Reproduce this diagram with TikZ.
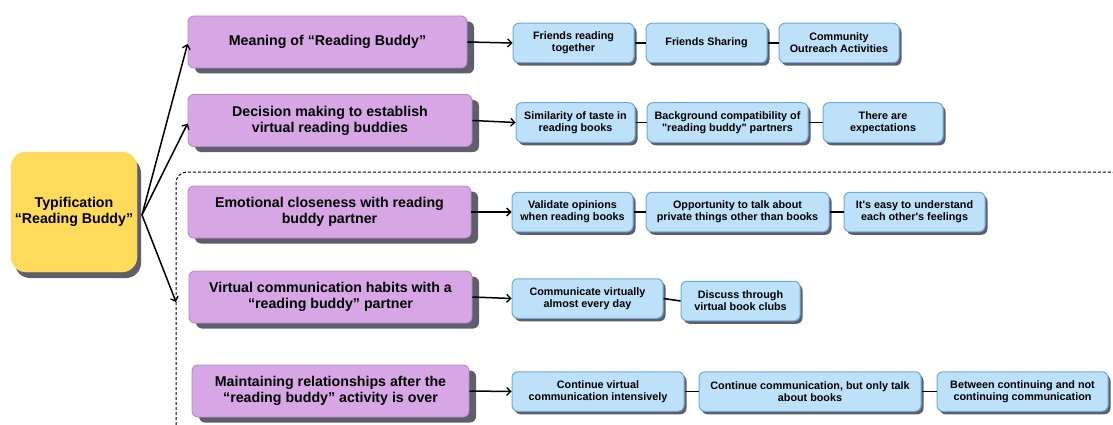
\documentclass[tikz,border=0pt]{standalone}
\usepackage{fontspec}
\setmainfont{Liberation Sans}
\usetikzlibrary{arrows.meta,shadows}

\definecolor{topicfill}{HTML}{D6A7E4}
\definecolor{topicdraw}{HTML}{B888CC}
\definecolor{itemfill}{HTML}{BDE1F9}
\definecolor{itemdraw}{HTML}{6FAAD8}
\definecolor{rootfill}{HTML}{FFDB5C}
\definecolor{shadowc}{HTML}{5F5E6B}

\tikzset{
  rootbox/.style={draw=rootfill, fill=rootfill, rounded corners=15pt,
    minimum width=126pt, minimum height=120pt, inner sep=0pt, align=center,
    font=\bfseries\fontsize{14.2}{16}\selectfont,
    general shadow={fill=shadowc, shadow xshift=4pt, shadow yshift=-6pt}},
  topicbox/.style={draw=topicdraw, line width=0.9pt, fill=topicfill, rounded corners=6pt,
    minimum height=52pt, inner sep=0pt, align=center,
    font=\bfseries\fontsize{14.2}{16}\selectfont,
    general shadow={fill=shadowc, shadow xshift=7pt, shadow yshift=-5.5pt}},
  itembox/.style={draw=itemdraw, line width=1pt, fill=itemfill, rounded corners=6pt,
    minimum height=39.5pt, inner sep=0pt, align=center,
    font=\bfseries\fontsize{10.8}{12.2}\selectfont,
    general shadow={fill=shadowc, shadow xshift=2.5pt, shadow yshift=-3pt}},
  fanarrow/.style={line width=1.5pt, -{Straight Barb[length=4pt,width=8pt,line width=1.3pt]}},
  link/.style={line width=1.6pt},
}

\begin{document}
\begin{tikzpicture}[x=1pt,y=-1pt]
\useasboundingbox (0,0) rectangle (1113,425);

% dashed frame around the last three topics
\begin{scope}
  \clip (0,0) rectangle (1113,425);
  \draw[line width=1pt, dash pattern=on 3pt off 2pt, rounded corners=11pt]
    (176,450) -- (176,172) -- (1122,172) -- (1122,450);
\end{scope}

% root
\node[rootbox] (root) at (74,212) {Typification\\“Reading Buddy”};

% topics
\node[topicbox, minimum width=279pt] (t1) at (327.5,42) {Meaning of “Reading Buddy”};
\node[topicbox, minimum width=284pt] (t2) at (330,120.5) {Decision making to establish\\virtual reading buddies};
\node[topicbox, minimum width=283pt] (t3) at (329.5,212) {Emotional closeness with reading\\buddy partner};
\node[topicbox, minimum width=283pt] (t4) at (330.5,297) {Virtual communication habits with a\\“reading buddy” partner};
\node[topicbox, minimum width=277pt] (t5) at (330.5,391) {Maintaining relationships after the\\“reading buddy” activity is over};

% row 1
\node[itembox, minimum width=121pt] (a1) at (573.5,43) {Friends reading\\together};
\node[itembox, minimum width=121pt] (a2) at (706.5,43) {Friends Sharing};
\node[itembox, minimum width=120pt] (a3) at (839,43) {Community\\Outreach Activities};

% row 2
\node[itembox, minimum width=119pt] (b1) at (575.5,122.5) {Similarity of taste in\\reading books};
\node[itembox, minimum width=161pt] (b2) at (727.5,122.5) {Background compatibility of\\\textquotedbl reading buddy\textquotedbl{} partners};
\node[itembox, minimum width=120pt] (b3) at (883,122.5) {There are\\expectations};

% row 3
\node[itembox, minimum width=121pt] (c1) at (572.5,212) {Validate opinions\\when reading books};
\node[itembox, minimum width=183pt] (c2) at (737.5,212) {Opportunity to talk about\\private things other than books};
\node[itembox, minimum width=141pt] (c3) at (914.5,212) {It\textquotesingle s easy to understand\\each other\textquotesingle s feelings};

% row 4
\node[itembox, minimum width=151pt] (d1) at (587.5,298.5) {Communicate virtually\\almost every day};
\node[itembox, minimum width=119pt] (d2) at (740.5,301) {Discuss through\\virtual book clubs};

% row 5
\node[itembox, minimum width=172pt] (e1) at (598,391.5) {Continue virtual\\communication intensively};
\node[itembox, minimum width=222pt] (e2) at (810,391.5) {Continue communication, but only talk\\about books};
\node[itembox, minimum width=171pt] (e3) at (1022.5,391.5) {Between continuing and not\\continuing communication};

% fan out of the root
\coordinate (fan) at (142,215);
\coordinate (frameleft) at (176,302);
\draw[fanarrow] (fan) -- ([yshift=-2pt]t1.west);
\draw[fanarrow] (fan) -- ([yshift=-3pt]t2.west);
\draw[fanarrow] (fan) -- (frameleft);

% topic to first item
\draw[fanarrow] (t1.east) -- (a1.west);
\draw[fanarrow] (t2.east) -- (b1.west);
\draw[fanarrow] (t3.east) -- (c1.west);
\draw[fanarrow] (t4.east) -- (d1.west);
\draw[fanarrow] (t5.east) -- (e1.west);

% chains of items
\draw[link] (a1) -- (a2);
\draw[link] (a2) -- (a3);
\draw[link] (b1) -- (b2);
\draw[link] (b2) -- (b3);
\draw[link] (c1) -- (c2);
\draw[link] (c2) -- (c3);
\draw[link] (d1.east) -- (d2.west);
\draw[link] (e1) -- (e2);
\draw[link] (e2) -- (e3);
\end{tikzpicture}
\end{document}
